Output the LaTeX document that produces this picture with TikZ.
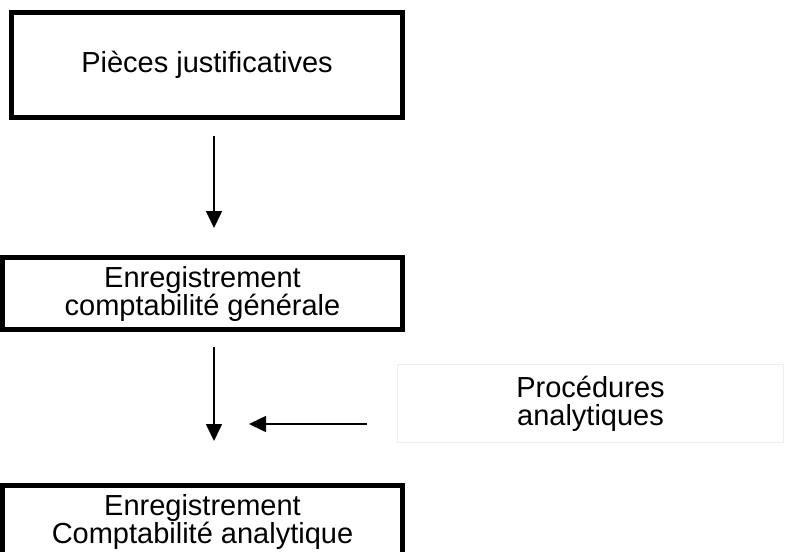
\documentclass[tikz,border=0pt]{standalone}
\usepackage{fontspec}
\setmainfont{Liberation Sans}
\usetikzlibrary{positioning, arrows.meta}
\definecolor{faintgray}{HTML}{EEEEEE}

\begin{document}
\begin{tikzpicture}[x=0.75pt, y=-0.75pt,
    stepbox/.style={draw, line width=3.75pt, align=center, inner sep=0pt,
                    minimum width=300pt, font=\fontsize{21.75}{21}\selectfont},
    sidebox/.style={draw=faintgray, line width=0.75pt, align=center, inner sep=0pt,
                    minimum width=289pt, minimum height=59pt,
                    font=\fontsize{21.75}{21}\selectfont},
    flow/.style={-{Triangle[length=12.75pt, width=12pt]}, line width=1.2pt}]
  \useasboundingbox (0,0) rectangle (785,551);

  \node[stepbox, minimum width=293pt, minimum height=78.75pt] (pieces) at (207,65) {Pièces justificatives};
  \node[stepbox, minimum height=54pt] (general) at (202.5,293.5) {Enregistrement\\comptabilité générale};
  \node[stepbox, minimum height=54pt] (analytic) at (202.5,521.5) {Enregistrement\\Comptabilité analytique};
  \node[sidebox] (procedures) at (590.5,403.5) {Procédures\\analytiques};

  \coordinate (a1s) at (214,136);
  \coordinate (a1e) at (214,228);
  \coordinate (a2s) at (214,347);
  \coordinate (a2e) at (214,441);
  \coordinate (a3s) at (367,424);
  \coordinate (a3e) at (249,424);

  \draw[flow] (a1s) -- (a1e);
  \draw[flow] (a2s) -- (a2e);
  \draw[flow] (a3s) -- (a3e);
\end{tikzpicture}
\end{document}
